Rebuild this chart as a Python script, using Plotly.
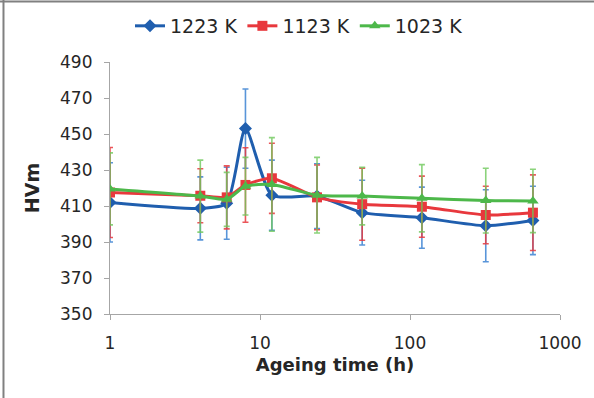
import plotly.graph_objects as go

hours = [1, 4, 6, 8, 12, 24, 48, 120, 320, 660]

hv_1223 = [412, 408.7, 411.5, 453, 416, 415.5, 406.3, 403.5, 399, 402]
err_1223 = [22, 17.5, 20, 22, 19.5, 18, 18, 17, 20, 19]

hv_1123 = [417.5, 415.7, 414.8, 421.7, 425.4, 414.8, 411, 409.6, 405, 406.3]
err_1123 = [25, 15, 17.5, 20.7, 19.5, 18, 20, 17, 16, 21]

hv_1023 = [419.5, 415.5, 413.7, 421, 422, 416, 415.5, 414.3, 413, 412.8]
err_1023 = [20, 20, 15, 16, 26, 21, 16, 18.7, 18, 17.6]

series = [
    ("1223 K", hv_1223, err_1223, "#1f5eae", "rgba(60,130,210,0.85)", "diamond", 10),
    ("1123 K", hv_1123, err_1123, "#e8383d", "rgba(232,56,61,0.85)", "square", 10),
    ("1023 K", hv_1023, err_1023, "#4db84a", "rgba(110,200,90,0.8)", "triangle-up", 10),
]

fig = go.Figure()
for name, vals, errs, col, ecol, sym, ms in series:
    fig.add_trace(go.Scatter(
        x=hours, y=vals, name=name, mode="lines+markers",
        line=dict(color=col, width=3, shape="spline", smoothing=0.6),
        marker=dict(symbol=sym, size=ms, color=col),
        error_y=dict(type="data", array=errs, visible=True, color=ecol,
                     thickness=1.6, width=3),
    ))

axis_col = "#a6a6a6"
font_fam = "'DejaVu Sans', sans-serif"
txt_col = "#262626"

fig.update_layout(
    width=594, height=398,
    margin=dict(l=110, r=34, t=62, b=84, autoexpand=False),
    paper_bgcolor="white", plot_bgcolor="white",
    font=dict(family=font_fam, size=17, color=txt_col),
    showlegend=True,
    legend=dict(orientation="h", x=0.42, xanchor="center", y=1.143, yanchor="middle",
                font=dict(size=19, color=txt_col), itemwidth=30,
                bgcolor="rgba(0,0,0,0)"),
    xaxis=dict(type="log", range=[0, 3], showgrid=False, zeroline=False,
               showline=True, linecolor=axis_col, linewidth=1.2,
               ticks="outside", ticklen=5, tickcolor=axis_col,
               tickvals=[1, 10, 100, 1000], ticktext=["1", "10", "100", "1000"],
               tickfont=dict(size=17, color=txt_col),
               ticklabelstandoff=8,
               title=dict(text="<b>Ageing time (h)</b>", font=dict(size=18, color=txt_col), standoff=6)),
    yaxis=dict(range=[350, 490], showgrid=False, zeroline=False,
               showline=True, linecolor=axis_col, linewidth=1.2,
               ticks="outside", ticklen=5, tickcolor=axis_col,
               tickvals=[350, 370, 390, 410, 430, 450, 470, 490],
               tickfont=dict(size=17, color=txt_col),
               ticklabelstandoff=8,
               title=dict(text="<b>HVm</b>", font=dict(size=19, color=txt_col), standoff=15)),
)

frame_col = "#808080"
fig.add_shape(type="line", xref="paper", yref="paper",
              x0=-0.2444, x1=1.0756, y0=1.240, y1=1.240,
              line=dict(color=frame_col, width=2))
fig.add_shape(type="line", xref="paper", yref="paper",
              x0=-0.2367, x1=-0.2367, y0=1.246, y1=-0.333,
              line=dict(color=frame_col, width=2))

fig.write_html("out.html", config={"displayModeBar": False},
               post_script="document.body.style.margin='0';document.body.style.overflow='hidden';")
